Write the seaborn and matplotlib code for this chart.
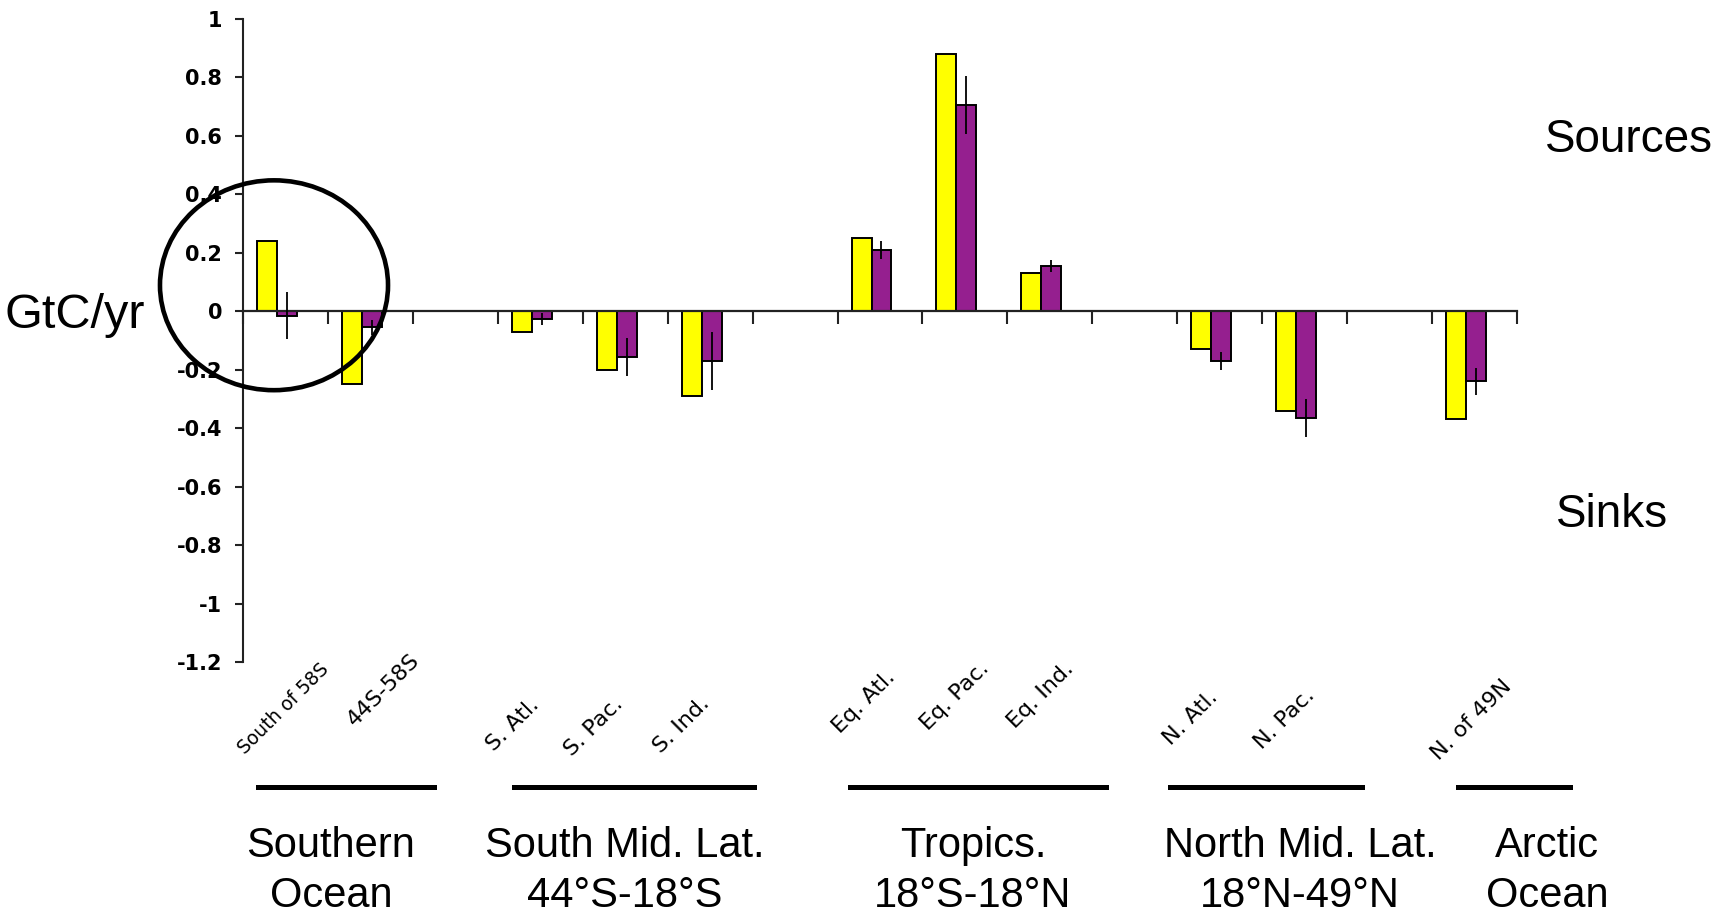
import matplotlib
matplotlib.use("Agg")
import matplotlib.pyplot as plt
import pandas as pd
import seaborn as sns
from matplotlib.lines import Line2D
from matplotlib.patches import Ellipse

# --- data ---
regions = ["South of 58S", "44S-58S", "S. Atl.", "S. Pac.", "S. Ind.",
           "Eq. Atl.", "Eq. Pac.", "Eq. Ind.", "N. Atl.", "N. Pac.", "N. of 49N"]
# axis slots; the blank names are spacer slots between latitude zones
axis_order = ["South of 58S", "44S-58S", " ", "S. Atl.", "S. Pac.", "S. Ind.", "  ",
              "Eq. Atl.", "Eq. Pac.", "Eq. Ind.", "   ", "N. Atl.", "N. Pac.", "    ",
              "N. of 49N"]
yellow_flux = [0.24, -0.25, -0.07, -0.20, -0.29, 0.25, 0.88, 0.13, -0.13, -0.34, -0.37]
purple_flux = [-0.015, -0.055, -0.027, -0.155, -0.17, 0.21, 0.705, 0.155, -0.17, -0.365, -0.24]
purple_err = [0.08, 0.025, 0.02, 0.065, 0.10, 0.03, 0.10, 0.022, 0.03, 0.065, 0.045]

ytick_values = [1, 0.8, 0.6, 0.4, 0.2, 0, -0.2, -0.4, -0.6, -0.8, -1, -1.2]
ytick_labels = ["1", "0.8", "0.6", "0.4", "0.2", "0", "-0.2", "-0.4", "-0.6", "-0.8", "-1", "-1.2"]

zone_names = ["Southern\nOcean", "South Mid. Lat.\n44°S-18°S", "Tropics.\n18°S-18°N",
              "North Mid. Lat.\n18°N-49°N", "Arctic\nOcean"]

series_colors = {"series 1": "#FFFF00", "series 2": "#951F8F"}

# --- layout (pixels of the 1719x918 canvas) ---
W, H = 1719, 918
# rotated region labels: shift of label centre from the slot centre, and depth below the axes
label_dx = [7, 22, -19, -23, -20, -8, -2, -1, -21, -12, 5]
label_dy = [47, 28, 63, 65, 63, 40, 34, 33, 56, 57, 58]
label_size = [13.5, 16, 16, 16, 16, 16, 16, 16, 16, 16, 16]
zone_line_px = [(258, 434), (514, 754), (850, 1106), (1170, 1362), (1458, 1570)]
zone_text_x = [331, 625, 973, 1300, 1547]
zone_line_y = 787
zone_text_y = 871

df = pd.DataFrame({
    "region": regions * 2,
    "series": ["series 1"] * len(regions) + ["series 2"] * len(regions),
    "flux": yellow_flux + purple_flux,
})

fig = plt.figure(figsize=(W / 100, H / 100), dpi=100)
ax = fig.add_axes([243 / W, 1 - 662 / H, (1517 - 243) / W, (662 - 19) / H])

sns.barplot(
    data=df, x="region", y="flux", hue="series",
    order=axis_order, hue_order=list(series_colors), palette=series_colors,
    width=0.47, saturation=1, errorbar=None, edgecolor="black", linewidth=1.4,
    legend=False, ax=ax,
)

# error bars on the purple series only
purple_bars = sorted(ax.containers[1], key=lambda p: p.get_x())
ax.errorbar(
    [p.get_x() + p.get_width() / 2 for p in purple_bars], purple_flux, yerr=purple_err,
    fmt="none", ecolor="black", elinewidth=1.3, capsize=0, zorder=5,
)

# category axis runs along zero, with tick marks between slots
ax.spines[["top", "right"]].set_visible(False)
ax.spines["bottom"].set_position(("data", 0))
ax.spines["bottom"].set_linewidth(1.6)
ax.spines["bottom"].set_color("#222222")
ax.spines["left"].set_linewidth(1.5)
ax.spines["left"].set_color("#222222")
ax.set_xticks([k - 0.40 for k in range(len(axis_order) + 1)])
ax.set_xticklabels([])
ax.tick_params(axis="x", direction="out", length=9.5, width=1.5, color="#222222")
ax.set_xlim(-0.40, len(axis_order) - 0.40)
ax.set_ylim(-1.2, 1)
ax.set_yticks(ytick_values)
ax.set_yticklabels(ytick_labels, fontsize=15, fontweight="bold", family="DejaVu Sans")
ax.tick_params(axis="y", length=6, width=1.5, pad=9, color="#222222")
ax.set_xlabel("")
ax.set_ylabel("")

# region names sit under the plot, rotated
slot_pos = [i for i, name in enumerate(axis_order) if name.strip()]
for pos, name, dx, dy, size in zip(slot_pos, regions, label_dx, label_dy, label_size):
    ax.annotate(name, xy=(pos, 0), xycoords=ax.get_xaxis_transform(),
                xytext=(dx, -dy), textcoords="offset pixels", rotation=45,
                rotation_mode="anchor", ha="center", va="center", fontsize=size,
                family="DejaVu Sans", annotation_clip=False)

ax.add_patch(Ellipse((-0.035, 0.089), 2.685, 0.718, fill=False, lw=3.3,
                     ec="black", clip_on=False, zorder=6))

for (x0, x1), cx, name in zip(zone_line_px, zone_text_x, zone_names):
    fig.add_artist(Line2D([x0 / W, x1 / W], [1 - zone_line_y / H] * 2, lw=3.6, color="black"))
    fig.text(cx / W, 1 - zone_text_y / H, name, ha="center", va="center",
             fontsize=30, linespacing=1.3, family="Liberation Sans")

fig.text(75 / W, 1 - 315 / H, "GtC/yr", ha="center", va="center", fontsize=35,
         family="Liberation Sans")
fig.text(1629 / W, 1 - 140 / H, "Sources", ha="center", va="center", fontsize=33,
         family="Liberation Sans")
fig.text(1612 / W, 1 - 515 / H, "Sinks", ha="center", va="center", fontsize=33,
         family="Liberation Sans")

fig.savefig("out.png", dpi=100)
